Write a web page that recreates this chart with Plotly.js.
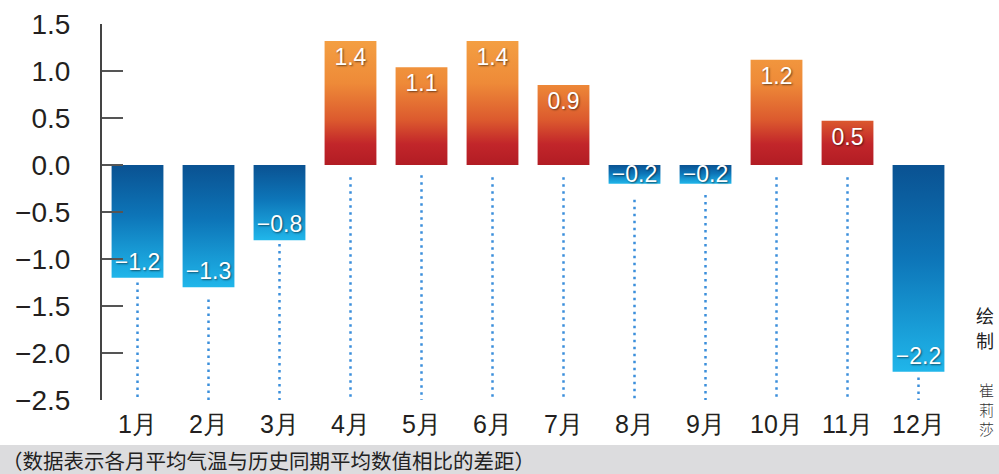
<!DOCTYPE html>
<html>
<head>
<meta charset="utf-8">
<script src="https://cdn.plot.ly/plotly-3.0.1.min.js"></script>
<style>
html,body{margin:0;padding:0;background:#fff;}
#chart{width:999px;height:474px;}
</style>
</head>
<body>
<div id="chart"></div>
<script>
// ---- data ----
var months = ["1月","2月","3月","4月","5月","6月","7月","8月","9月","10月","11月","12月"];
var values = [-1.2, -1.3, -0.8, 1.32, 1.04, 1.32, 0.85, -0.2, -0.2, 1.12, 0.47, -2.2];
var labels = ["−1.2","−1.3","−0.8","1.4","1.1","1.4","0.9","−0.2","−0.2","1.2","0.5","−2.2"];
var dotTop = [-1.25, -1.43, -0.84, -0.13, -0.11, -0.13, -0.13, -0.37, -0.32, -0.13, -0.13, -2.26];
var yTickVals = [1.5, 1.0, 0.5, 0.0, -0.5, -1.0, -1.5, -2.0, -2.5];
var footnote = "（数据表示各月平均气温与历史同期平均数值相比的差距）";
var creditTitle = ["绘", "制"];
var creditName = "崔<br>莉<br>莎";

// ---- layout geometry ----
var W = 999, H = 474, L = 102, R = 45, T = 24, B = 74;
var pw = W - L - R, ph = H - T - B;
function px2x(p){ return (p - L) / pw; }
function py2y(p){ return (H - B - p) / ph; }

var dotX = [], dotY = [];
months.forEach(function(m, i){
  dotX.push(m, m, null);
  dotY.push(dotTop[i], -2.5, null);
});

var traces = [
  {
    type: 'scatter', mode: 'lines', x: dotX, y: dotY,
    line: {color: '#3b8fdb', width: 2.5, dash: '2.5px,4.5px'},
    hoverinfo: 'skip', showlegend: false, connectgaps: false
  },
  {
    type: 'bar', x: months, y: values, text: labels,
    textposition: 'inside', insidetextanchor: 'end', constraintext: 'none',
    textfont: {family: 'Liberation Sans, Arial, sans-serif', size: 23, color: '#ffffff',
               shadow: '1px 1px 2px rgba(0,0,0,0.55)'},
    marker: {color: values.map(function(v){ return v >= 0 ? '#d9482b' : '#1280c4'; }), line: {width: 0}},
    width: 0.73, hoverinfo: 'skip', showlegend: false
  }
];

var annotations = [];
annotations.push({
  xref: 'paper', yref: 'paper', x: px2x(0), y: py2y(460),
  xanchor: 'left', yanchor: 'middle', showarrow: false, text: footnote,
  font: {family: 'Noto Sans CJK SC, sans-serif', size: 20.5, color: '#222'}
});
creditTitle.forEach(function(c, i){
  annotations.push({
    xref: 'paper', yref: 'paper', x: px2x(985), y: py2y(315 + i * 25),
    xanchor: 'center', yanchor: 'middle', showarrow: false, text: c, borderpad: 0,
    font: {family: 'Noto Sans CJK SC, sans-serif', size: 18, color: '#222'}
  });
});
annotations.push({
  xref: 'paper', yref: 'paper', x: px2x(986), y: py2y(409),
  xanchor: 'center', yanchor: 'middle', showarrow: false, text: creditName, borderpad: 0,
  font: {family: 'Noto Sans CJK SC, sans-serif', size: 15, color: '#333', weight: 300}
});

var layout = {
  width: W, height: H,
  margin: {l: L, r: R, t: T, b: B, pad: 0},
  paper_bgcolor: '#ffffff', plot_bgcolor: 'rgba(0,0,0,0)',
  showlegend: false,
  bargap: 0.27,
  xaxis: {
    type: 'category', categoryarray: months, categoryorder: 'array',
    range: [-0.5, months.length - 0.5],
    showline: false, ticks: '', showgrid: false, zeroline: false,
    tickfont: {family: 'Liberation Sans, Arial, sans-serif', size: 25, color: '#231f20'},
    ticklabelstandoff: 7, fixedrange: true
  },
  xaxis2: {
    overlaying: 'x', anchor: 'free', position: 2.5 / 4, side: 'bottom',
    type: 'linear', range: [-0.5, months.length - 0.5],
    tickmode: 'array', tickvals: months.map(function(m, i){ return i + 0.5; }),
    ticks: 'outside', ticklen: 10, tickwidth: 2, tickcolor: '#444',
    showline: true, linewidth: 2, linecolor: '#444',
    showticklabels: false, showgrid: false, zeroline: false, fixedrange: true
  },
  yaxis: {
    range: [-2.5, 1.5], tickmode: 'array', tickvals: yTickVals, tickformat: '.1f',
    ticks: 'inside', ticklen: 21, tickwidth: 2, tickcolor: '#555',
    showline: true, linewidth: 2, linecolor: '#444',
    showgrid: false, zeroline: false,
    tickfont: {family: 'Liberation Sans, Arial, sans-serif', size: 28, color: '#231f20'},
    ticklabelstandoff: 24, fixedrange: true
  },
  shapes: [{
    type: 'rect', xref: 'paper', yref: 'paper', layer: 'below',
    x0: px2x(0), x1: px2x(W), y0: py2y(H), y1: py2y(445),
    fillcolor: '#dcdcde', line: {width: 0}
  }],
  annotations: annotations
};

var gd = document.getElementById('chart');
Plotly.newPlot(gd, traces, layout, {displayModeBar: false, staticPlot: true}).then(function(){
  var svgNS = 'http://www.w3.org/2000/svg';
  var svg = gd.querySelector('.main-svg');
  var defs = svg.querySelector('defs');
  var ya = gd._fullLayout.yaxis;
  function grad(id, stops, units, y1, y2){
    var g = document.createElementNS(svgNS, 'linearGradient');
    g.setAttribute('id', id);
    g.setAttribute('gradientUnits', units);
    g.setAttribute('x1', 0); g.setAttribute('x2', 0);
    g.setAttribute('y1', y1); g.setAttribute('y2', y2);
    stops.forEach(function(s){
      var st = document.createElementNS(svgNS, 'stop');
      st.setAttribute('offset', s[0]);
      st.setAttribute('stop-color', s[1]);
      g.appendChild(st);
    });
    defs.appendChild(g);
  }
  grad('gradPos', [[0, '#f6a746'], [0.42, '#ee8a38'], [0.68, '#dc5a2e'], [0.85, '#c2262a'], [1, '#b21c24']],
       'userSpaceOnUse', ya.l2p(1.5), ya.l2p(0));
  grad('gradNeg', [[0, '#0a5292'], [0.45, '#0d75b8'], [1, '#20b6ea']],
       'objectBoundingBox', 0, 1);
  var points = gd.querySelectorAll('.trace.bars .point');
  points.forEach(function(pt, i){
    var p = pt.querySelector('path');
    if (p) p.style.fill = values[i] >= 0 ? 'url(#gradPos)' : 'url(#gradNeg)';
    // short bars: let the label overhang below the bar instead of above the axis
    var t = pt.querySelector('text');
    if (t && values[i] < 0 && values[i] > -0.3) {
      var tr = t.getAttribute('transform') || '';
      t.setAttribute('transform', 'translate(0,6) ' + tr);
    }
  });
});
</script>
</body>
</html>
